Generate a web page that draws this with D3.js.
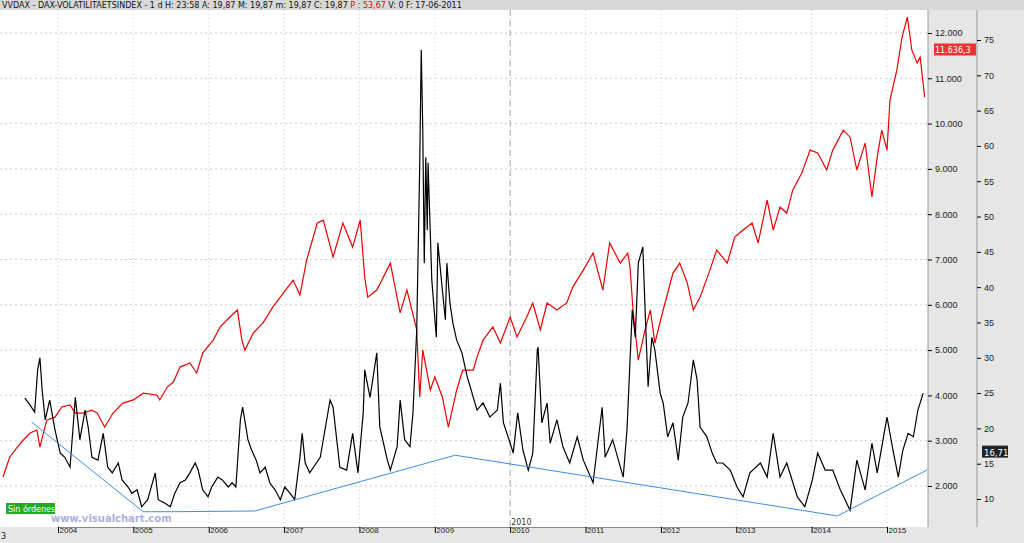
<!DOCTYPE html><html><head><meta charset="utf-8">
<script src="https://cdn.jsdelivr.net/npm/d3@7"></script>
<style>body{margin:0;background:#fff}svg{display:block;font-family:"DejaVu Sans",sans-serif}</style></head><body>
<script>
const daxDates = [2003.27,2003.36,2003.46,2003.54,2003.63,2003.72,2003.76,2003.85,2003.96,2004.05,2004.16,2004.23,2004.33,2004.45,2004.52,2004.62,2004.73,2004.86,2005.00,2005.13,2005.31,2005.35,2005.45,2005.53,2005.62,2005.75,2005.84,2005.92,2006.06,2006.15,2006.28,2006.38,2006.44,2006.48,2006.59,2006.72,2006.85,2006.99,2007.12,2007.21,2007.30,2007.44,2007.52,2007.65,2007.78,2007.91,2008.01,2008.07,2008.11,2008.23,2008.41,2008.54,2008.63,2008.76,2008.80,2008.84,2008.94,2009.00,2009.10,2009.18,2009.29,2009.37,2009.51,2009.56,2009.64,2009.77,2009.87,2010.00,2010.09,2010.22,2010.30,2010.40,2010.49,2010.62,2010.75,2010.83,2010.97,2011.10,2011.23,2011.32,2011.46,2011.56,2011.59,2011.63,2011.70,2011.79,2011.86,2011.92,2012.03,2012.16,2012.25,2012.35,2012.43,2012.52,2012.65,2012.74,2012.88,2012.98,2013.09,2013.21,2013.29,2013.41,2013.49,2013.58,2013.67,2013.75,2013.87,2013.98,2014.08,2014.20,2014.28,2014.42,2014.51,2014.60,2014.71,2014.80,2014.87,2014.93,2015.00,2015.04,2015.13,2015.20,2015.27,2015.33,2015.40,2015.44,2015.50];
const daxValues = [2200,2640,2860,3015,3170,3235,2860,3455,3520,3745,3790,3610,3610,3675,3610,3300,3610,3830,3900,4050,4010,3900,4185,4295,4625,4715,4495,4935,5220,5510,5730,5885,5220,5000,5375,5600,5950,6260,6545,6215,6990,7805,7870,7055,7805,7275,7870,6610,6170,6325,6920,5820,6325,5445,3965,5000,4120,4405,3965,3300,4120,4560,4560,4845,5220,5510,5155,5730,5290,5730,6040,5445,6040,5885,6040,6390,6765,7140,6325,7365,6920,7140,6835,5885,4780,5445,5885,5155,5885,6700,6920,6480,5885,6170,6765,7210,6920,7495,7650,7805,7365,8310,7650,8155,8025,8535,8910,9415,9350,8975,9415,9855,9700,8975,9570,8380,9260,9855,9415,10520,11180,11910,12350,11620,11335,11470,10585];
const vdaxDates = [2003.56,2003.63,2003.69,2003.73,2003.76,2003.79,2003.83,2003.89,2003.96,2004.03,2004.09,2004.16,2004.23,2004.29,2004.36,2004.40,2004.45,2004.53,2004.60,2004.66,2004.72,2004.80,2004.85,2004.93,2004.98,2005.05,2005.11,2005.19,2005.29,2005.33,2005.42,2005.49,2005.55,2005.62,2005.69,2005.75,2005.82,2005.86,2005.92,2005.99,2006.04,2006.12,2006.18,2006.26,2006.31,2006.36,2006.42,2006.45,2006.52,2006.57,2006.63,2006.68,2006.75,2006.81,2006.88,2006.95,2007.01,2007.08,2007.14,2007.21,2007.24,2007.28,2007.34,2007.48,2007.61,2007.65,2007.74,2007.83,2007.91,2007.98,2008.05,2008.07,2008.14,2008.23,2008.27,2008.37,2008.41,2008.50,2008.54,2008.60,2008.67,2008.71,2008.76,2008.78,2008.80,2008.82,2008.84,2008.86,2008.88,2008.90,2008.91,2008.96,2009.02,2009.04,2009.10,2009.14,2009.16,2009.20,2009.24,2009.29,2009.36,2009.43,2009.47,2009.51,2009.56,2009.64,2009.73,2009.83,2009.87,2009.91,2010.00,2010.04,2010.10,2010.17,2010.24,2010.30,2010.36,2010.37,2010.42,2010.49,2010.53,2010.62,2010.70,2010.79,2010.89,2010.97,2011.10,2011.22,2011.26,2011.36,2011.50,2011.55,2011.62,2011.66,2011.70,2011.76,2011.79,2011.83,2011.88,2011.92,2011.99,2012.03,2012.09,2012.16,2012.23,2012.29,2012.36,2012.43,2012.48,2012.52,2012.61,2012.68,2012.74,2012.82,2012.92,2013.01,2013.09,2013.18,2013.32,2013.41,2013.49,2013.58,2013.67,2013.81,2013.91,2014.01,2014.08,2014.18,2014.28,2014.38,2014.51,2014.60,2014.71,2014.80,2014.87,2015.00,2015.08,2015.15,2015.21,2015.28,2015.35,2015.41,2015.48];
const vdaxValues = [24.3,23.3,22.3,28.3,30.0,25.4,21.2,24.0,19.8,16.5,15.9,14.5,24.4,18.4,22.6,20.2,15.9,15.5,19.3,14.5,13.7,15.1,12.7,11.7,10.8,11.3,8.9,9.9,13.7,9.9,9.4,8.9,10.8,12.3,12.7,13.7,15.1,14.1,11.3,10.3,11.7,13.1,12.7,11.7,12.3,11.7,21.2,23.0,18.4,16.9,15.5,13.7,14.5,12.3,11.3,9.9,11.7,10.8,9.9,15.9,19.3,15.1,13.7,15.9,24.0,23.0,14.5,14.1,19.3,13.7,22.2,28.3,24.4,30.7,20.2,15.5,14.1,17.4,24.0,18.4,17.4,22.2,33.9,45.7,57.6,73.6,62.3,43.4,58.4,48.1,57.6,41.0,32.9,46.3,39.6,35.4,43.4,37.8,34.9,32.5,30.7,27.3,25.9,24.4,22.6,23.6,21.6,22.6,26.4,20.8,17.9,16.5,22.2,16.9,14.1,16.5,31.1,31.5,20.8,23.6,17.9,21.2,17.4,15.1,18.8,15.5,12.3,23.0,15.9,18.4,13.1,19.8,36.8,32.9,43.4,45.7,36.8,25.9,32.9,31.1,25.0,23.6,18.8,20.8,15.5,21.6,23.6,29.7,26.9,20.2,18.8,16.5,15.1,15.1,14.1,11.7,10.3,13.7,15.1,13.1,19.3,13.1,15.1,10.3,8.9,12.7,16.5,14.1,14.1,11.3,8.4,15.5,11.3,17.9,13.7,21.6,16.9,13.1,16.9,19.3,18.8,22.6,25.0];
const trendDates = [2003.65,2005.13,2005.51,2006.61,2009.27,2014.34,2015.53];
const trendValues = [20.9,8.2,8.2,8.3,16.2,7.6,14.1];
const years = [2004,2005,2006,2007,2008,2009,2010,2011,2012,2013,2014,2015];
const daxTicks = [2000,3000,4000,5000,6000,7000,8000,9000,10000,11000,12000];
const vdaxTicks = [10,15,20,25,30,35,40,45,50,55,60,65,70,75];

const W=1024,H=543;
const svg=d3.select("body").append("svg").attr("width",W).attr("height",H);
const x=d3.scaleLinear().domain([2004,2015]).range([58,887]);
const yD=d3.scaleLinear().domain([2000,12000]).range([486,33]);
const yV=d3.scaleLinear().domain([10,75]).range([499,40]);
const es=v=>d3.format(",")(v).replace(/,/g,".");

svg.append("rect").attr("x",928).attr("y",10).attr("width",96).attr("height",517).attr("fill","#e6e6e6");
svg.append("rect").attr("x",0).attr("y",0).attr("width",W).attr("height",10).attr("fill","#d8d8d8");
svg.append("rect").attr("x",0).attr("y",527).attr("width",W).attr("height",16).attr("fill","#e6e6e6");
svg.append("text").attr("x",2).attr("y",8).attr("font-size",8).attr("fill","#111")
 .html('VVDAX - DAX-VOLATILITAETSINDEX -  1 d H: 23:58 A: 19,87 M: 19,87 m: 19,87 C: 19,87 <tspan fill="#e00">P : 53,67</tspan> V: 0 F: 17-06-2011');
const g=svg.append("g");
years.forEach(yr=>g.append("line").attr("x1",x(yr)).attr("x2",x(yr)).attr("y1",10).attr("y2",527).attr("stroke","#ccc").attr("stroke-dasharray","1,3"));
daxTicks.forEach(t=>g.append("line").attr("x1",0).attr("x2",928).attr("y1",yD(t)).attr("y2",yD(t)).attr("stroke","#ccc").attr("stroke-dasharray","2,3"));
g.append("line").attr("x1",x(2010)).attr("x2",x(2010)).attr("y1",10).attr("y2",527).attr("stroke","#aaa").attr("stroke-dasharray","6,4");
svg.append("text").attr("x",x(2010)+1).attr("y",525).attr("font-size",8).attr("fill","#333").text("2010");

svg.append("line").attr("x1",928).attr("x2",928).attr("y1",10).attr("y2",527).attr("stroke","#999");
svg.append("line").attr("x1",977).attr("x2",977).attr("y1",10).attr("y2",527).attr("stroke","#999");
const aD=svg.append("g").attr("transform","translate(928,0)").call(d3.axisRight(yD).tickValues(daxTicks).tickFormat(es).tickSize(4));
aD.select(".domain").remove();aD.selectAll("text").attr("font-size",9).attr("fill","#222");
const aV=svg.append("g").attr("transform","translate(977,0)").call(d3.axisRight(yV).tickValues(vdaxTicks).tickSize(4));
aV.select(".domain").remove();aV.selectAll("text").attr("font-size",9).attr("fill","#222");
const aX=svg.append("g").attr("transform","translate(0,527)").call(d3.axisBottom(x).tickValues(years).tickFormat(d3.format("d")).tickSize(6));
aX.select(".domain").attr("stroke","#888");aX.selectAll("text").attr("font-size",8).attr("fill","#222").attr("text-anchor","start").attr("dx",1).attr("dy",-3);
svg.append("text").attr("x",1).attr("y",539).attr("font-size",8).attr("fill","#222").text("3");

const line=(xs,ys,yS)=>d3.line().x((d,i)=>x(xs[i])).y((d,i)=>yS(ys[i]))(ys);
svg.append("path").attr("fill","none").attr("stroke","#e00").attr("stroke-width",1.2).attr("d",line(daxDates,daxValues,yD));
svg.append("path").attr("fill","none").attr("stroke","#000").attr("stroke-width",1.2).attr("d",line(vdaxDates,vdaxValues,yV));
svg.append("path").attr("fill","none").attr("stroke","#3a8ee6").attr("stroke-width",1).attr("d",line(trendDates,trendValues,yV));

svg.append("rect").attr("x",934).attr("y",yD(11636)-6).attr("width",42).attr("height",12).attr("fill","#e33");
svg.append("text").attr("x",935).attr("y",yD(11636)+4).attr("font-size",8).attr("fill","#fff").text("11.636,3");
svg.append("rect").attr("x",982).attr("y",yV(16.71)-6).attr("width",26).attr("height",12).attr("fill","#222");
svg.append("text").attr("x",984).attr("y",yV(16.71)+4).attr("font-size",8.5).attr("fill","#fff").text("16,71");
svg.append("rect").attr("x",6).attr("y",503).attr("width",49).attr("height",11).attr("fill","#2a2");
svg.append("text").attr("x",8).attr("y",512).attr("font-size",8).attr("fill","#fff").text("Sin órdenes");
svg.append("text").attr("x",51).attr("y",522).attr("font-size",10).attr("font-weight","bold").attr("fill","#aab0e0").text("www.visualchart.com");
</script></body></html>
